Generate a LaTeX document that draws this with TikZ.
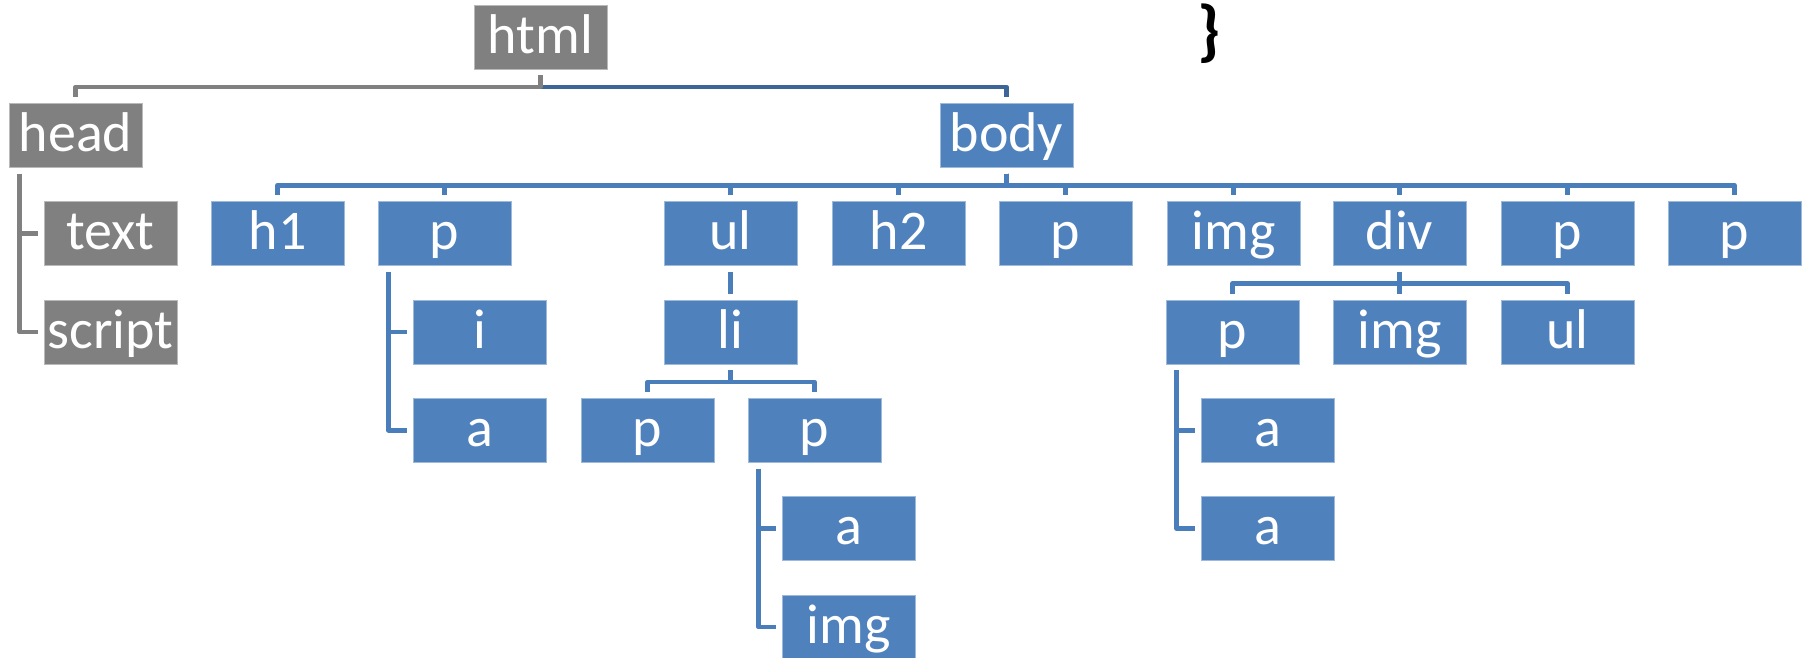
\documentclass[tikz,border=0pt]{standalone}
\usepackage{fontspec}
\setmainfont{Carlito}
\definecolor{boxblue}{RGB}{79,129,189}
\definecolor{boxgray}{RGB}{128,128,128}
\definecolor{connblue}{RGB}{74,126,187}
\definecolor{conndark}{RGB}{60,102,152}
\definecolor{conngray}{RGB}{128,128,128}
\newcommand{\tconn}[3][conn]{\draw[#1] ([yshift=-6pt]#2.south) -- ++(0,-11.5) -| ([yshift=6pt]#3.north);}
\newcommand{\sconn}[3][conn]{\draw[#1] ([xshift=11pt,yshift=-6pt]#2.south west) |- ([xshift=-6pt]#3.west);}
\begin{document}
\begin{tikzpicture}[x=1pt,y=1pt,
 box/.style={rectangle, fill=boxblue, draw=boxblue!55!white, line width=0.8pt,
   minimum width=133pt, minimum height=64pt, inner sep=0pt, text=white,
   font=\fontsize{56}{60}\selectfont, text height=40pt, text depth=8pt},
 gbox/.style={box, fill=boxgray, draw=boxgray!55!white},
 conn/.style={line width=4.6pt, draw=connblue, line join=round},
 gconn/.style={conn, draw=conngray},
 dconn/.style={conn, draw=conndark}]
\useasboundingbox (0,0) rectangle (1805,-657);
% level 0/1
\node[gbox] (html) at (540.5,-37) {html};
\node[gbox] (head) at (75.5,-135.3) {head};
\node[box] (body) at (1006.5,-135.3) {body};
% head children
\node[gbox] (text) at (110.5,-233.7) {text};
\node[gbox] (script) at (110.5,-332) {script};
% body children
\node[box] (h1) at (277.5,-233.7) {h1};
\node[box] (p1) at (444.5,-233.7) {p};
\node[box] (ul) at (730.5,-233.7) {ul};
\node[box] (h2) at (898.5,-233.7) {h2};
\node[box] (p2) at (1065.5,-233.7) {p};
\node[box] (img) at (1233.5,-233.7) {img};
\node[box] (div) at (1399.5,-233.7) {div};
\node[box] (p3) at (1567.5,-233.7) {p};
\node[box] (p4) at (1734.5,-233.7) {p};
% p children
\node[box] (i) at (479.5,-332) {i};
\node[box] (a1) at (479.5,-430.3) {a};
% ul subtree
\node[box] (li) at (730.5,-332) {li};
\node[box] (lp1) at (647.5,-430.3) {p};
\node[box] (lp2) at (814.5,-430.3) {p};
\node[box] (a2) at (848.5,-528.7) {a};
\node[box] (img2) at (848.5,-627) {img};
% div subtree
\node[box] (dp) at (1232.5,-332) {p};
\node[box] (dimg) at (1399.5,-332) {img};
\node[box] (dul) at (1567.5,-332) {ul};
\node[box] (da1) at (1267.5,-430.3) {a};
\node[box] (da2) at (1267.5,-528.7) {a};
% brace
\node[inner sep=0pt, font=\fontsize{68}{68}\selectfont\bfseries] (brace) at (1209,-34) {\}};
% connectors
\tconn[dconn]{html}{body}
\tconn[gconn]{html}{head}
\sconn[gconn]{head}{text}
\sconn[gconn]{head}{script}
\foreach \c in {h1,p1,ul,h2,p2,img,div,p3,p4} {\tconn{body}{\c}}
\sconn{p1}{i}
\sconn{p1}{a1}
\tconn{ul}{li}
\tconn{li}{lp1}
\tconn{li}{lp2}
\sconn{lp2}{a2}
\sconn{lp2}{img2}
\tconn{div}{dp}
\tconn{div}{dimg}
\tconn{div}{dul}
\sconn{dp}{da1}
\sconn{dp}{da2}
\end{tikzpicture}
\end{document}
